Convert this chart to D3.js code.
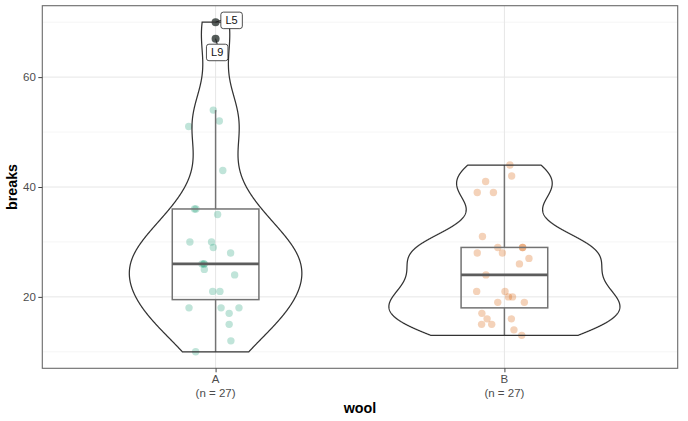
<!DOCTYPE html>
<html>
<head>
<meta charset="utf-8">
<script src="https://cdn.jsdelivr.net/npm/d3@7"></script>
<style>
  html, body { margin: 0; padding: 0; background: #fff; }
  svg { display: block; }
</style>
</head>
<body>
<svg id="chart" width="688" height="421"></svg>
<script>
// ---- data (warpbreaks) ----
const categories = ["A", "B"];
const countLabels = ["(n = 27)", "(n = 27)"];
const breaksA = [54, 52, 51, 43, 36, 36, 35, 30, 30, 29, 28, 26, 26, 26, 25, 24, 21, 21, 18, 18, 18, 17, 15, 12, 10, 70, 67];
const jitterA = [-0.008, 0.013, -0.093, 0.025, -0.073, -0.068, 0.007, -0.089, -0.014, -0.008, 0.052, -0.047, -0.041, -0.039, -0.039, 0.066, -0.010, 0.015, -0.092, 0.019, 0.081, 0.047, 0.047, 0.053, -0.069, 0, 0];
const breaksB = [44, 42, 41, 39, 39, 31, 29, 29, 29, 28, 28, 27, 26, 24, 21, 21, 20, 20, 19, 19, 17, 16, 16, 15, 15, 14, 13];
const jitterB = [0.019, 0.025, -0.065, -0.094, -0.038, -0.076, -0.023, 0.063, 0.063, -0.007, -0.094, 0.085, 0.052, -0.064, -0.096, 0.002, 0.014, 0.028, -0.023, 0.069, -0.078, -0.060, 0.024, -0.079, -0.044, 0.033, 0.060];
const outlierLabels = [{ wool: "A", value: 70, label: "L5" }, { wool: "A", value: 67, label: "L9" }];
const yMajorTicks = [20, 40, 60];
const yMinorTicks = [10, 30, 50, 70];
const groupColors = ["#1B9E77", "#D95F02"];

// ---- layout ----
const svg = d3.select("#chart");
const panel = { left: 42.3, right: 677.7, top: 5.7, bottom: 368.3 };

const x = d3.scalePoint().domain(categories).range([panel.left, panel.right]).padding(0.6);
const step = x.step();
const y = d3.scaleLinear().domain([7, 73]).range([panel.bottom, panel.top]);

const groups = [
  { key: "A", values: breaksA, jitter: jitterA, color: groupColors[0] },
  { key: "B", values: breaksB, jitter: jitterB, color: groupColors[1] }
];

// grid
const g = svg.append("g");
g.selectAll(".minor").data(yMinorTicks).join("line")
  .attr("x1", panel.left).attr("x2", panel.right)
  .attr("y1", d => y(d)).attr("y2", d => y(d))
  .attr("stroke", "#f2f2f2").attr("stroke-width", 0.8);
g.selectAll(".major").data(yMajorTicks).join("line")
  .attr("x1", panel.left).attr("x2", panel.right)
  .attr("y1", d => y(d)).attr("y2", d => y(d))
  .attr("stroke", "#e6e6e6").attr("stroke-width", 1);
g.selectAll(".vmajor").data(categories).join("line")
  .attr("x1", d => x(d)).attr("x2", d => x(d))
  .attr("y1", panel.top).attr("y2", panel.bottom)
  .attr("stroke", "#e6e6e6").attr("stroke-width", 1);

// density helpers
function bwNrd0(v) {
  const sd = d3.deviation(v);
  const sorted = v.slice().sort(d3.ascending);
  const iqr = d3.quantileSorted(sorted, 0.75) - d3.quantileSorted(sorted, 0.25);
  const lo = Math.min(sd, iqr / 1.34);
  return 0.9 * lo * Math.pow(v.length, -0.2);
}
function kde(v, bw, pts) {
  const n = v.length;
  return pts.map(t => {
    let s = 0;
    for (const vi of v) { const u = (t - vi) / bw; s += Math.exp(-0.5 * u * u); }
    return [t, s / (n * bw * Math.sqrt(2 * Math.PI))];
  });
}
groups.forEach(gr => {
  const bw = bwNrd0(gr.values);
  const [mn, mx] = d3.extent(gr.values);
  const pts = d3.range(512).map(i => mn + (mx - mn) * i / 511);
  gr.density = kde(gr.values, bw, pts);
  gr.maxD = d3.max(gr.density, d => d[1]);
  const s = gr.values.slice().sort(d3.ascending);
  gr.q1 = d3.quantileSorted(s, 0.25);
  gr.med = d3.quantileSorted(s, 0.5);
  gr.q3 = d3.quantileSorted(s, 0.75);
  const iqr = gr.q3 - gr.q1;
  gr.lo = d3.min(s.filter(d => d >= gr.q1 - 1.5 * iqr));
  gr.hi = d3.max(s.filter(d => d <= gr.q3 + 1.5 * iqr));
  gr.out = s.filter(d => d < gr.lo || d > gr.hi);
});
const globalMax = d3.max(groups, gr => gr.maxD);
const violinWidth = 0.8;
const boxWidth = 0.3;

// jitter points
groups.forEach(gr => {
  g.append("g").selectAll("circle").data(gr.values.map((v, i) => ({ v, j: gr.jitter[i] })))
    .join("circle")
    .attr("cx", d => x(gr.key) + d.j * step)
    .attr("cy", d => y(d.v))
    .attr("r", 3.7)
    .attr("fill", gr.color).attr("fill-opacity", 0.28);
});

// boxplots
groups.forEach(gr => {
  const cx = x(gr.key), hw = boxWidth / 2 * step;
  const bg = g.append("g").attr("stroke", "#737373").attr("fill", "none");
  bg.append("line").attr("x1", cx).attr("x2", cx).attr("y1", y(gr.q3)).attr("y2", y(gr.hi)).attr("stroke-width", 1.5);
  bg.append("line").attr("x1", cx).attr("x2", cx).attr("y1", y(gr.q1)).attr("y2", y(gr.lo)).attr("stroke-width", 1.5);
  bg.append("rect").attr("x", cx - hw).attr("width", 2 * hw)
    .attr("y", y(gr.q3)).attr("height", y(gr.q1) - y(gr.q3)).attr("stroke-width", 1.5);
  bg.append("line").attr("x1", cx - hw).attr("x2", cx + hw).attr("y1", y(gr.med)).attr("y2", y(gr.med))
    .attr("stroke-width", 2.6).attr("stroke", "#5c5c5c");
});

// violins
groups.forEach(gr => {
  const cx = x(gr.key);
  const half = d => (d[1] / globalMax) * violinWidth / 2 * step;
  const right = gr.density.map(d => [cx + half(d), y(d[0])]);
  const left = gr.density.slice().reverse().map(d => [cx - half(d), y(d[0])]);
  g.append("path")
    .attr("d", d3.line()(right.concat(left)) + "Z")
    .attr("fill", "none").attr("stroke", "#333").attr("stroke-width", 1.25);
});

// outliers
groups.forEach(gr => {
  g.append("g").selectAll("circle").data(gr.out).join("circle")
    .attr("cx", x(gr.key)).attr("cy", d => y(d)).attr("r", 4)
    .attr("fill", "#3a3a3a").attr("fill-opacity", 0.8);
});

// outlier labels (repel-style offsets)
const labelOffsets = { L5: [16, -1.8], L9: [1.6, 13.8] };
outlierLabels.forEach(o => {
  const px = x(o.wool), py = y(o.value);
  const [dx, dy] = labelOffsets[o.label];
  const lx = px + dx, ly = py + dy;
  const w = 21.5, h = 16.5;
  let ex, ey;
  if (Math.abs(dx) > Math.abs(dy)) { ex = lx - w / 2; ey = ly; } else { ex = lx; ey = ly - h / 2; }
  g.append("line").attr("x1", px).attr("y1", py).attr("x2", ex).attr("y2", ey)
    .attr("stroke", "#222").attr("stroke-width", 1);
  g.append("rect").attr("x", lx - w / 2).attr("y", ly - h / 2).attr("width", w).attr("height", h)
    .attr("rx", 2.5).attr("fill", "#fff").attr("stroke", "#222").attr("stroke-width", 0.8);
  g.append("text").attr("x", lx).attr("y", ly).attr("dy", "0.36em")
    .attr("text-anchor", "middle").attr("font-family", "Liberation Sans, Arial, sans-serif")
    .attr("font-size", 11).attr("fill", "#111").text(o.label);
});

// panel border
svg.append("rect").attr("x", panel.left).attr("y", panel.top)
  .attr("width", panel.right - panel.left).attr("height", panel.bottom - panel.top)
  .attr("fill", "none").attr("stroke", "#6a6a6a").attr("stroke-width", 1.1);

// axes
const font = "Liberation Sans, Arial, Helvetica, sans-serif";
const yAxis = svg.append("g").attr("transform", `translate(${panel.left},0)`)
  .call(d3.axisLeft(y).tickValues(yMajorTicks).tickSize(4).tickPadding(2.5));
yAxis.select(".domain").remove();
yAxis.selectAll("line").attr("stroke", "#444").attr("stroke-width", 1);
yAxis.selectAll("text").attr("font-family", font).attr("font-size", 11.5).attr("fill", "#4d4d4d");

const xAxis = svg.append("g").attr("transform", `translate(0,${panel.bottom})`)
  .call(d3.axisBottom(x).tickSize(4).tickPadding(2).tickFormat(""));
xAxis.select(".domain").remove();
xAxis.selectAll("line").attr("stroke", "#444").attr("stroke-width", 1);
categories.forEach((c, i) => {
  const t = svg.append("text").attr("x", x(c)).attr("text-anchor", "middle")
    .attr("font-family", font).attr("font-size", 11.5).attr("fill", "#4d4d4d");
  t.append("tspan").attr("x", x(c)).attr("y", 382.5).text(c);
  t.append("tspan").attr("x", x(c)).attr("y", 396.5).text(countLabels[i]);
});

// titles
svg.append("text").attr("x", (panel.left + panel.right) / 2).attr("y", 412.5)
  .attr("text-anchor", "middle").attr("font-family", font).attr("font-weight", "bold")
  .attr("font-size", 14.3).attr("fill", "#000").text("wool");
svg.append("text").attr("transform", `translate(17,${(panel.top + panel.bottom) / 2}) rotate(-90)`)
  .attr("text-anchor", "middle").attr("font-family", font).attr("font-weight", "bold")
  .attr("font-size", 14.3).attr("fill", "#000").text("breaks");
</script>
</body>
</html>
